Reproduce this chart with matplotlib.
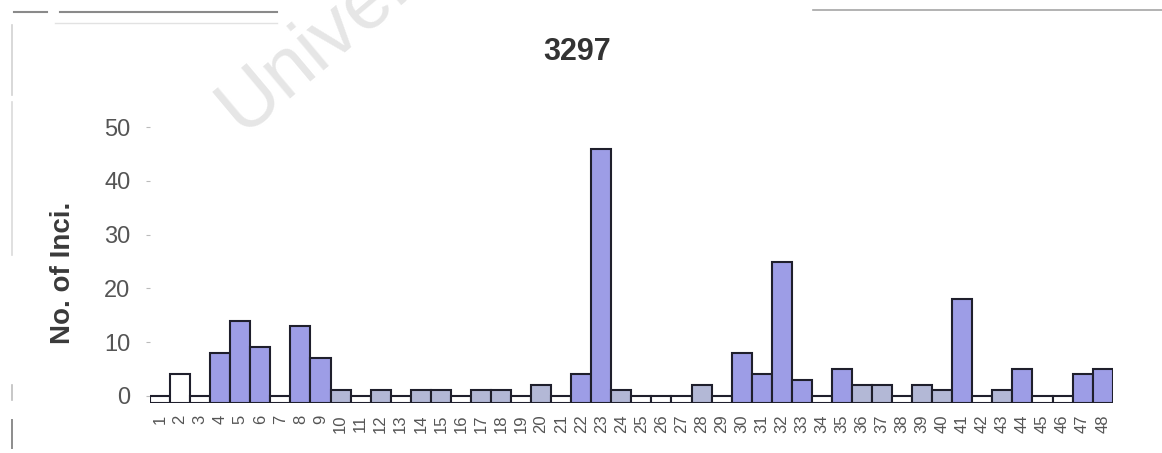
import matplotlib
matplotlib.use("Agg")
import matplotlib.pyplot as plt
from matplotlib.lines import Line2D
import numpy as np

# ---- data -------------------------------------------------------------
categories = [str(i) for i in range(1, 49)]
incidents = [0, 4, 0, 8, 14, 9, 0, 13, 7, 1,
             0, 1, 0, 1, 1, 0, 1, 1, 0, 2,
             0, 4, 46, 1, 0, 0, 0, 2, 0, 8,
             4, 25, 3, 0, 5, 2, 2, 0, 2, 1,
             18, 0, 1, 5, 0, 0, 4, 5]
title = "3297"
y_label = "No. of Inci."
y_ticks = [0, 10, 20, 30, 40, 50]

# ---- style ------------------------------------------------------------
W, H = 1162, 453
FLOOR = -1.4                 # columns sit on a thin floor strip below zero
FILL = "#9d9de6"
FILL_LOW = "#b3b8d6"
EDGE = "#1f1f2c"
HOLLOW = {"2"}               # categories drawn as outline only
FONT = "Liberation Sans"

fig = plt.figure(figsize=(W / 100, H / 100), dpi=100)
fig.patch.set_facecolor("white")

def px(x, y):
    return x / W, 1 - y / H

# faint page edges of the scanned sheet
for (x0, y0, x1, y1, c, lw) in [
        (14, 12, 47, 12, "#8a8a8a", 1.5),
        (60, 12, 277, 12, "#8a8a8a", 1.5),
        (55, 23, 277, 23, "#e2e2e2", 1.0),
        (813, 10, 1162, 10, "#a5a5a5", 1.2),
        (12, 25, 12, 95, "#d2d2d2", 1.2),
        (12, 102, 12, 255, "#dadada", 1.2),
        (12, 385, 12, 400, "#bdbdbd", 1.2),
        (12, 420, 12, 448, "#8c8c8c", 1.4)]:
    (a, b), (c2, d) = px(x0, y0), px(x1, y1)
    fig.add_artist(Line2D([a, c2], [b, d], transform=fig.transFigure,
                          color=c, lw=lw, zorder=-2))

# watermark
wx, wy = px(242, 134)
fig.text(wx, wy, "University", rotation=40, rotation_mode="anchor",
         ha="left", va="baseline", fontsize=57, color="#e6e6e6",
         family=FONT, zorder=-1)

# ---- axes -------------------------------------------------------------
left, bottom = px(150, 403.3)
_, top = px(0, 100.4)
ax = fig.add_axes([left, bottom, (1112.7 - 150) / W, top - bottom])
ax.patch.set_alpha(0)
ax.set_xlim(0.5, len(categories) + 0.5)
ax.set_ylim(FLOOR, 55)

x = np.arange(1, len(categories) + 1)
vals = np.array(incidents, dtype=float)
colors = []
for cat, v in zip(categories, incidents):
    if cat in HOLLOW or v == 0:
        colors.append("white")
    elif v <= 2:
        colors.append(FILL_LOW)
    else:
        colors.append(FILL)

ax.bar(x, vals - FLOOR, bottom=FLOOR, width=1.0, color=colors,
       edgecolor=EDGE, linewidth=1.5, zorder=2)

for s in ax.spines.values():
    s.set_visible(False)

ax.set_yticks(y_ticks)
ax.set_yticklabels([str(t) for t in y_ticks], fontsize=17, color="#555555",
                   family=FONT)
ax.tick_params(axis="y", length=3, width=0.8, color="#bbbbbb", pad=11)

ax.set_xticks(x)
ax.set_xticklabels(categories, rotation=90, fontsize=12, color="#555555",
                   family=FONT)
ax.tick_params(axis="x", length=0, pad=8)

# titles
tx, ty = px(577.5, 52)
fig.text(tx, ty, title, ha="center", va="center", fontsize=22,
         fontweight="bold", color="#333333", family=FONT)
lx, ly = px(63, 273)
fig.text(lx, ly, y_label, rotation=90, ha="center", va="center",
         fontsize=20, fontweight="bold", color="#3a3a3a", family=FONT)

fig.savefig("out.png", dpi=100)
